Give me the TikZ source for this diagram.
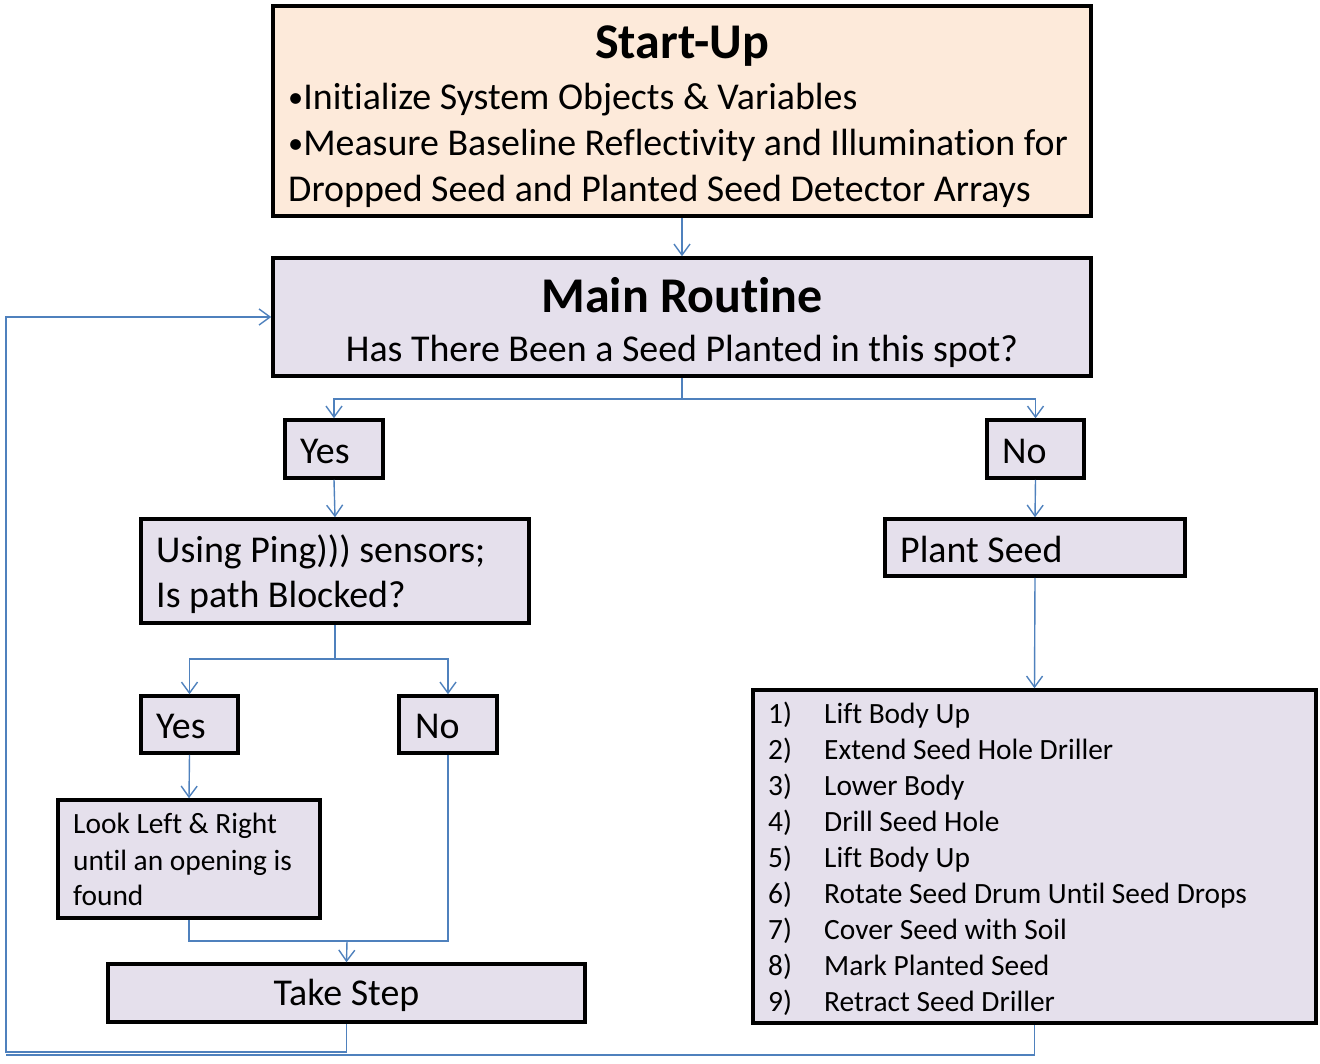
\documentclass[tikz,border=0pt]{standalone}
\usepackage{fontspec}
\setmainfont[Ligatures=NoCommon]{Carlito}
\usetikzlibrary{arrows.meta}
\definecolor{peach}{RGB}{253,234,218}
\definecolor{lav}{RGB}{229,224,236}
\definecolor{connc}{RGB}{79,129,189}
\newcommand{\smbul}{\raisebox{1.5pt}{\scalebox{0.8}{•}}}
\begin{document}
\begin{tikzpicture}[x=1pt,y=-1pt,
  box/.style={draw=black, line width=3.5pt, fill=lav, rectangle, inner sep=0pt},
  txt/.style={inner sep=0pt, anchor=base west, font=\fontsize{37.9}{46}\selectfont},
  small/.style={inner sep=0pt, anchor=base west, font=\fontsize{29.4}{36}\selectfont},
  ttl/.style={inner sep=0pt, anchor=base, font=\fontsize{50}{58}\selectfont\bfseries},
  conn/.style={draw=connc, line width=1.4pt},
  arr/.style={conn, -{Straight Barb[length=11pt,width=16pt]}}]
\useasboundingbox (0,0) rectangle (1320,1063);
% boxes
\node[box, fill=peach, minimum width=818, minimum height=210] (start) at (682,111) {};
\node[box, minimum width=818, minimum height=118] (main) at (682,317) {};
\node[box, minimum width=98, minimum height=58] (yes1) at (334,449) {};
\node[box, minimum width=97, minimum height=58] (no1) at (1035.5,449) {};
\node[box, minimum width=388, minimum height=104] (ping) at (335,571) {};
\node[box, minimum width=300, minimum height=57] (plant) at (1035,547.5) {};
\node[box, minimum width=97, minimum height=57] (yes2) at (189.5,724.5) {};
\node[box, minimum width=98, minimum height=57] (no2) at (448,724.5) {};
\node[box, minimum width=262, minimum height=118] (look) at (189,859) {};
\node[box, minimum width=477, minimum height=58] (take) at (346.5,993) {};
\node[box, minimum width=563, minimum height=333] (list) at (1034.5,856.5) {};
% texts
\node[ttl] (t1) at (682,58) {Start-Up};
\node[txt] (t2) at (288,109) {\smbul Initialize System Objects \& Variables};
\node[txt] (t3) at (288,155) {\smbul Measure Baseline Reflectivity and Illumination for};
\node[txt] (t4) at (288,201) {Dropped Seed and Planted Seed Detector Arrays};
\node[ttl] (t5) at (682,312) {Main Routine};
\node[txt, anchor=base] (t6) at (682,361) {Has There Been a Seed Planted in this spot?};
\node[txt] (t7) at (300,463) {Yes};
\node[txt] (t8) at (1002,463) {No};
\node[txt] (t9) at (156,562) {Using Ping))) sensors;};
\node[txt] (t10) at (156,607) {Is path Blocked?};
\node[txt] (t11) at (900,562) {Plant Seed};
\node[txt] (t12) at (156,738) {Yes};
\node[txt] (t13) at (415,738) {No};
\node[small] (t14) at (73,833) {Look Left \& Right};
\node[small] (t15) at (73,870) {until an opening is};
\node[small] (t16) at (73,905) {found};
\node[txt, anchor=base] (t17) at (346.5,1005) {Take Step};
\foreach \n/\s [count=\i] in {1/Lift Body Up, 2/Extend Seed Hole Driller, 3/Lower Body, 4/Drill Seed Hole, 5/Lift Body Up, 6/Rotate Seed Drum Until Seed Drops, 7/Cover Seed with Soil, 8/Mark Planted Seed, 9/Retract Seed Driller}{
  \node[small] (n\i) at (768,{723+36.1*(\i-1)}) {\n)};
  \node[small] (s\i) at (824,{723+36.1*(\i-1)}) {\s};
}
% connectors
\coordinate (m1) at (682,399);
\coordinate (m2) at (335,659);
\coordinate (m3) at (347,941);
\coordinate (lp1) at (6,1052);
\coordinate (lp2) at (6,1055);
\draw[arr] (start.south) -- (main.north);
\draw[conn] (main.south) -- (m1);
\draw[arr] (m1) -| (yes1.north);
\draw[arr] (m1) -| (no1.north);
\draw[arr] (yes1.south) -- (ping.north);
\draw[arr] (no1.south) -- (plant.north);
\draw[conn] (ping.south) -- (m2);
\draw[arr] (m2) -| (yes2.north);
\draw[arr] (m2) -| (no2.north);
\draw[arr] (yes2.south) -- (look.north);
\draw[conn] (look.south) |- (m3);
\draw[conn] (no2.south) |- (m3);
\draw[arr] (m3) -- (take.north);
\draw[arr] (plant.south) -- (list.north);
\draw[arr] (take.south) |- (lp1) |- (main.west);
\draw[conn] (list.south) |- (lp2);
\end{tikzpicture}
\end{document}
